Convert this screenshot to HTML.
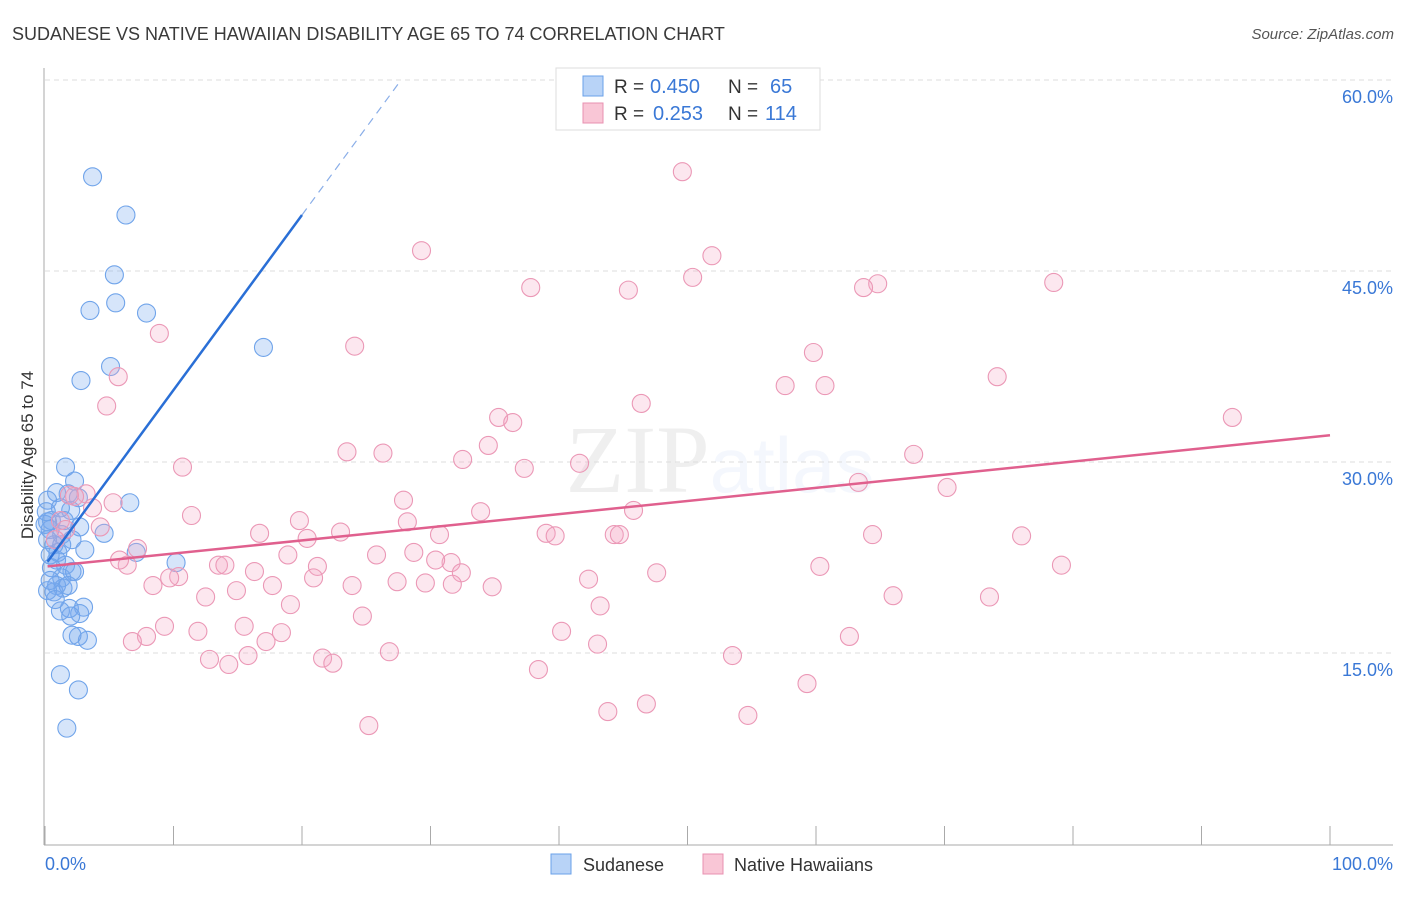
<!DOCTYPE html>
<html><head><meta charset="utf-8"><style>
body{margin:0;background:#fff;font-family:"Liberation Sans",sans-serif}
</style></head><body>
<svg id="chart" width="1406" height="892" xmlns="http://www.w3.org/2000/svg" style="font-family:'Liberation Sans',sans-serif">
<text x="12" y="40" font-size="18" fill="#3a3a3a">SUDANESE VS NATIVE HAWAIIAN DISABILITY AGE 65 TO 74 CORRELATION CHART</text>
<text x="1394" y="39" font-size="15" fill="#555" text-anchor="end" font-style="italic">Source: ZipAtlas.com</text>
<text x="720" y="492" font-size="96" text-anchor="middle" fill="#000" opacity="0.06" font-family="Liberation Serif">ZIP<tspan fill="#3b7bd9" font-family="Liberation Sans" font-size="78" opacity="0.9">atlas</tspan></text>
<text transform="translate(33,455) rotate(-90)" font-size="17" fill="#333" text-anchor="middle">Disability Age 65 to 74</text>
<g id="grid"></g><g id="axes"></g><g id="pts"></g><g id="lines"></g>
<g>
<rect x="556" y="68" width="264" height="62" fill="#fff" stroke="#ddd"/>
<rect x="583" y="76" width="20" height="20" fill="#b8d3f7" stroke="#6aa0e8"/>
<rect x="583" y="103" width="20" height="20" fill="#f9c6d6" stroke="#e890b0"/>
<text x="614" y="93" font-size="19" fill="#333">R =</text>
<text x="650" y="93" font-size="20" fill="#3a78d6">0.450</text>
<text x="728" y="93" font-size="19" fill="#333">N =</text>
<text x="770" y="93" font-size="20" fill="#3a78d6">65</text>
<text x="614" y="120" font-size="19" fill="#333">R =</text>
<text x="653" y="120" font-size="20" fill="#3a78d6">0.253</text>
<text x="728" y="120" font-size="19" fill="#333">N =</text>
<text x="765" y="120" font-size="20" fill="#3a78d6">114</text>
</g>
<g>
<rect x="551" y="854" width="20" height="20" fill="#b8d3f7" stroke="#6aa0e8"/>
<text x="583" y="871" font-size="18" fill="#333">Sudanese</text>
<rect x="703" y="854" width="20" height="20" fill="#f9c6d6" stroke="#e890b0"/>
<text x="734" y="871" font-size="18" fill="#333">Native Hawaiians</text>
</g>
</svg>
<script>
const yTicks=[15,30,45,60];
const yTickLabels=["15.0%","30.0%","45.0%","60.0%"];
const xEndLabels=["0.0%","100.0%"];
const blueX=[3.7,6.3,5.4,5.5,3.5,7.9,17.0,5.1,2.8,1.6,2.3,0.9,1.8,2.6,2.0,6.6,4.6,0.2,1.2,0.5,0.2,0.4,1.3,2.1,0.7,3.1,7.1,10.2,0.9,1.6,2.1,1.3,2.3,0.9,1.4,0.7,1.9,3.0,1.2,2.7,2.0,2.6,3.3,2.1,1.2,2.6,1.7,0.2,0.4,0.0,0.5,1.0,1.5,2.7,0.2,0.8,1.8,0.1,0.4,1.3];
const blueY=[52.4,49.4,44.7,42.5,41.9,41.7,39.0,37.5,36.4,29.6,28.5,27.6,27.5,27.2,26.2,26.8,24.4,27.0,26.4,25.4,25.3,24.7,24.3,23.9,23.5,23.1,22.9,22.1,22.3,21.9,21.4,20.9,21.4,20.3,20.1,19.8,18.5,18.6,18.3,18.1,17.9,16.3,16.0,16.4,13.3,12.1,9.1,23.9,22.7,25.1,21.7,22.9,25.4,24.9,19.9,19.2,20.3,26.1,20.7,23.5];
const pinkX=[49.6,29.3,51.9,50.4,37.8,45.4,64.8,63.7,78.5,8.9,24.1,59.8,5.7,4.8,57.6,60.7,74.1,46.4,35.3,36.4,92.4,23.5,34.5,26.3,32.5,41.6,10.7,67.6,37.3,63.3,70.2,3.2,2.3,27.9,5.3,3.7,11.4,19.8,45.8,33.9,28.2,4.3,16.7,23.0,64.4,39.0,39.7,44.3,44.7,76.0,30.7,20.4,7.2,28.7,18.9,25.8,6.4,13.5,14.0,31.6,16.3,21.2,30.4,32.4,47.6,60.3,79.1,10.4,9.7,20.9,8.4,17.7,27.4,29.6,23.9,31.7,42.3,34.8,14.9,12.5,66.0,73.5,19.1,43.2,24.7,9.3,15.5,11.9,18.4,40.2,7.9,6.8,17.2,62.6,43.0,26.8,15.8,12.8,21.6,22.4,14.3,53.5,38.4,59.3,43.8,46.8,54.7,25.2,5.8,1.2,1.6,1.9,0.8];
const pinkY=[52.8,46.6,46.2,44.5,43.7,43.5,44.0,43.7,44.1,40.1,39.1,38.6,36.7,34.4,36.0,36.0,36.7,34.6,33.5,33.1,33.5,30.8,31.3,30.7,30.2,29.9,29.6,30.6,29.5,28.4,28.0,27.5,27.3,27.0,26.8,26.4,25.8,25.4,26.2,26.1,25.3,24.9,24.4,24.5,24.3,24.4,24.2,24.3,24.3,24.2,24.3,24.0,23.2,22.9,22.7,22.7,21.9,21.9,21.9,22.1,21.4,21.8,22.3,21.3,21.3,21.8,21.9,21.0,20.9,20.9,20.3,20.3,20.6,20.5,20.3,20.4,20.8,20.2,19.9,19.4,19.5,19.4,18.8,18.7,17.9,17.1,17.1,16.7,16.6,16.7,16.3,15.9,15.9,16.3,15.7,15.1,14.8,14.5,14.6,14.2,14.1,14.8,13.7,12.6,10.4,11.0,10.1,9.3,22.3,25.4,24.7,27.4,23.9];
const blueTrend=[21.9,49.4];
const pinkTrend=[21.8,32.1];
const NS="http://www.w3.org/2000/svg";
const xs=v=>45+v*12.85, ys=v=>844-v*12.733;
function mk(tag,attrs,parent){const e=document.createElementNS(NS,tag);for(const k in attrs)e.setAttribute(k,attrs[k]);document.getElementById(parent).appendChild(e);return e;}
yTicks.forEach((t,i)=>{
  const g=mk('line',{x1:45,x2:1393,y1:ys(t),y2:ys(t),stroke:'#ddd','stroke-dasharray':'5,4'},'grid');
  
  
  const l=mk('text',{x:1393,y:ys(t)+23,'font-size':18,fill:'#3a78d6','text-anchor':'end'},'grid');
  l.textContent=yTickLabels[i];
  
  
});
const ax=mk('line',{x1:44,x2:44,y1:68,y2:845,stroke:'#aaa'},'axes');


const bx=mk('line',{x1:44,x2:1393,y1:845,y2:845,stroke:'#aaa'},'axes');


for(let i=0;i<=10;i++){
  const t=mk('line',{x1:xs(i*10),x2:xs(i*10),y1:826,y2:845,stroke:'#aaa'},'axes');
  
  
}
[[0,'start',45],[100,'end',1393]].forEach((d,i)=>{
  const l=mk('text',{x:d[2],y:870,'font-size':18,fill:'#3a78d6','text-anchor':d[1]},'axes');
  l.textContent=xEndLabels[i];
  
  
});
blueX.forEach((x,i)=>{
  const c=mk('circle',{cx:xs(x),cy:ys(blueY[i]),r:9,fill:'rgba(120,170,240,0.3)',stroke:'#70a4ea','stroke-width':1.1},'pts');
  
  
});
pinkX.forEach((x,i)=>{
  const c=mk('circle',{cx:xs(x),cy:ys(pinkY[i]),r:9,fill:'rgba(245,170,198,0.28)',stroke:'#eb98b6','stroke-width':1.1},'pts');
  
  
});
const bs=(blueTrend[1]-blueTrend[0])/20;
const t1=mk('line',{x1:xs(0.2),y1:ys(blueTrend[0]+bs*0.2),x2:xs(20),y2:ys(blueTrend[1]),stroke:'#2a6fd6','stroke-width':2.5},'lines');


const xe=27.6;
const t2=mk('line',{x1:xs(20),y1:ys(blueTrend[1]),x2:xs(xe),y2:ys(blueTrend[0]+bs*xe),stroke:'#8aaee8','stroke-width':1.2,'stroke-dasharray':'8,6'},'lines');


const t3=mk('line',{x1:xs(0.2),y1:ys(pinkTrend[0]),x2:xs(100),y2:ys(pinkTrend[1]),stroke:'#e0608e','stroke-width':2.5},'lines');


</script>
</body></html>
